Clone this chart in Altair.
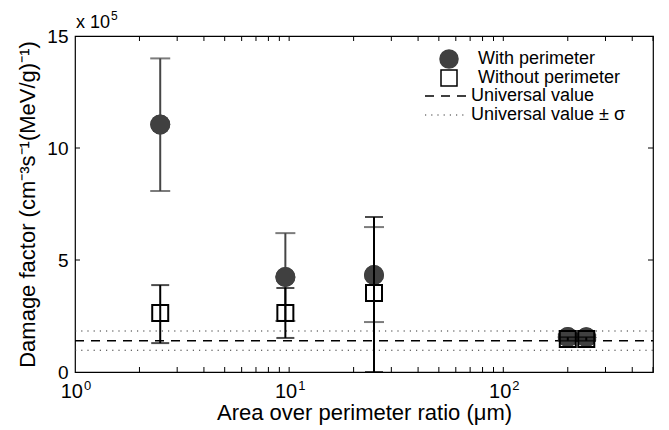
import altair as alt
import pandas as pd

# ---- data (values in units of 1e5) ----
x_groups = [2.5, 9.6, 24.9, 200, 244]
with_vals = [11.05, 4.24, 4.33, 1.56, 1.55]
with_lo = [8.08, 2.28, 2.23, 1.45, 1.45]
with_hi = [14.0, 6.2, 6.47, 1.67, 1.65]
without_vals = [2.63, 2.63, 3.53, 1.47, 1.47]
without_lo = [1.29, 1.52, 0.0, 1.40, 1.40]
without_hi = [3.88, 3.75, 6.92, 1.55, 1.55]
universal = 1.40
universal_sigma = 0.43

x_tick_values = [1, 10, 100]
x_tick_bases = ["10", "10", "10"]
x_tick_exps = ["0", "1", "2"]
x_minor = [2, 3, 4, 5, 6, 7, 8, 9, 10, 20, 30, 40, 50, 60, 70, 80, 90, 100, 200, 300, 400, 500]
y_tick_values = [0, 5, 10, 15]
y_inner_ticks = [5, 10]
legend_labels = ["With perimeter", "Without perimeter", "Universal value", "Universal value \u00b1 \u03c3"]
scale_base = "x 10"
scale_exp = "5"

W, H = 578, 336
FONT = "Liberation Sans"
GRAY = "#454545"

df_with = pd.DataFrame({"x": x_groups, "y": with_vals, "lo": with_lo, "hi": with_hi})
df_without = pd.DataFrame({"x": x_groups, "y": without_vals, "lo": without_lo, "hi": without_hi})
df_univ = pd.DataFrame({"y": [universal]})
df_sig = pd.DataFrame({"y": [universal - universal_sigma, universal + universal_sigma]})
df_xlab = pd.DataFrame({"x": x_tick_values, "b": x_tick_bases, "e": x_tick_exps})

xscale = alt.Scale(type="log", domain=[1, 500], nice=False)
yscale = alt.Scale(domain=[0, 15], nice=False, zero=False)

X = alt.X("x:Q", scale=xscale, axis=alt.Axis(
    values=x_tick_values, labels=False, tickSize=0, domain=False, grid=False,
    title="Area over perimeter ratio (\u03bcm)", titleFont=FONT, titleFontSize=22,
    titleFontWeight="normal", titlePadding=30, titleColor="black"))
Y = alt.Y("y:Q", scale=yscale, axis=alt.Axis(
    values=y_tick_values, tickSize=0, domain=False, grid=False,
    labelFontSize=19, labelPadding=7, labelFont=FONT, labelColor="black",
    title="Damage factor (cm\u207b\u00b3s\u207b\u00b9(MeV/g)\u207b\u00b9)", titleFont=FONT,
    titleFontSize=22, titleFontWeight="normal", titlePadding=7, titleColor="black",
    labelFlush=False))

base_w = alt.Chart(df_with)
base_wo = alt.Chart(df_without)

# universal lines
univ = alt.Chart(df_univ).mark_rule(color="black", strokeWidth=1.5, strokeDash=[9, 7]).encode(
    y=alt.Y("y:Q", scale=yscale), x=alt.value(0), x2=alt.value(W))
sig = alt.Chart(df_sig).mark_rule(color="#333333", strokeWidth=1.2, strokeDash=[1.2, 5]).encode(
    y=alt.Y("y:Q", scale=yscale), x=alt.value(0), x2=alt.value(W))

# with perimeter error bars + points
w_bar = base_w.mark_rule(color=GRAY, strokeWidth=2).encode(
    x=alt.X("x:Q", scale=xscale), y=alt.Y("lo:Q", scale=yscale), y2="hi:Q")
w_cap_lo = base_w.mark_tick(color=GRAY, orient="horizontal", size=20, thickness=2).encode(
    x=alt.X("x:Q", scale=xscale), y=alt.Y("lo:Q", scale=yscale))
w_cap_hi = base_w.mark_tick(color=GRAY, orient="horizontal", size=20, thickness=2).encode(
    x=alt.X("x:Q", scale=xscale), y=alt.Y("hi:Q", scale=yscale))
w_axes = base_w.mark_point(shape="circle", filled=True, color="#404040", size=400, opacity=1).encode(
    x=X, y=Y)
w_pts = base_w.mark_point(shape="circle", filled=True, color="#404040", size=400, opacity=1).encode(
    x=alt.X("x:Q", scale=xscale), y=alt.Y("y:Q", scale=yscale))

# without perimeter
wo_bar = base_wo.mark_rule(color="black", strokeWidth=2).encode(
    x=alt.X("x:Q", scale=xscale), y=alt.Y("lo:Q", scale=yscale), y2="hi:Q")
wo_cap_lo = base_wo.mark_tick(color="black", orient="horizontal", size=18, thickness=2).encode(
    x=alt.X("x:Q", scale=xscale), y=alt.Y("lo:Q", scale=yscale))
wo_cap_hi = base_wo.mark_tick(color="black", orient="horizontal", size=18, thickness=2).encode(
    x=alt.X("x:Q", scale=xscale), y=alt.Y("hi:Q", scale=yscale))
wo_pts = base_wo.mark_point(shape="square", filled=False, color="black", size=256,
                            strokeWidth=2, opacity=1).encode(
    x=alt.X("x:Q", scale=xscale), y=alt.Y("y:Q", scale=yscale))

# inner ticks (MATLAB style)
df_xt = pd.DataFrame({"x": x_minor})
df_yt = pd.DataFrame({"y": y_inner_ticks})
xt_bot = alt.Chart(df_xt).mark_rule(color="black", strokeWidth=1).encode(
    x=alt.X("x:Q", scale=xscale), y=alt.value(H), y2=alt.value(H - 5))
xt_top = alt.Chart(df_xt).mark_rule(color="black", strokeWidth=1).encode(
    x=alt.X("x:Q", scale=xscale), y=alt.value(0), y2=alt.value(5))
yt_l = alt.Chart(df_yt).mark_rule(color="black", strokeWidth=1).encode(
    y=alt.Y("y:Q", scale=yscale), x=alt.value(0), x2=alt.value(5))
yt_r = alt.Chart(df_yt).mark_rule(color="black", strokeWidth=1).encode(
    y=alt.Y("y:Q", scale=yscale), x=alt.value(W - 5), x2=alt.value(W))

# x tick labels as base + superscript
xl_base = alt.Chart(df_xlab).mark_text(font=FONT, fontSize=20, align="right",
                                       baseline="alphabetic", color="black", dx=8).encode(
    x=alt.X("x:Q", scale=xscale), y=alt.value(H + 26), text="b:N")
xl_exp = alt.Chart(df_xlab).mark_text(font=FONT, fontSize=13, align="left",
                                      baseline="alphabetic", color="black", dx=9).encode(
    x=alt.X("x:Q", scale=xscale), y=alt.value(H + 18), text="e:N")

# exponent label
expo_b = alt.Chart(pd.DataFrame({"t": [scale_base]})).mark_text(
    font=FONT, fontSize=18, align="left", baseline="alphabetic", color="black").encode(
    text="t:N", x=alt.value(1), y=alt.value(-8))
expo_e = alt.Chart(pd.DataFrame({"t": [scale_exp]})).mark_text(
    font=FONT, fontSize=12, align="left", baseline="alphabetic", color="black").encode(
    text="t:N", x=alt.value(36), y=alt.value(-16))

# manual legend
leg = []
ly = [23, 42, 60, 79]
lx = [403, 403, 396, 396]
for i, lab in enumerate(legend_labels):
    d = pd.DataFrame({"t": [lab]})
    leg.append(alt.Chart(d).mark_text(font=FONT, fontSize=18, align="left", baseline="middle",
                                      color="black").encode(
        text="t:N", x=alt.value(lx[i]), y=alt.value(ly[i])))
leg_c = alt.Chart(pd.DataFrame({"t": [legend_labels[0]]})).mark_point(
    shape="circle", filled=True, color="#404040", size=380, opacity=1).encode(
    x=alt.value(374), y=alt.value(ly[0]))
leg_s = alt.Chart(pd.DataFrame({"t": [legend_labels[1]]})).mark_point(
    shape="square", filled=False, color="black", size=256, strokeWidth=1.5, opacity=1).encode(
    x=alt.value(374), y=alt.value(ly[1]))
leg_d = alt.Chart(pd.DataFrame({"t": [legend_labels[2]]})).mark_rule(
    color="black", strokeWidth=1.5, strokeDash=[9, 7]).encode(
    x=alt.value(350), x2=alt.value(392), y=alt.value(ly[2]))
leg_o = alt.Chart(pd.DataFrame({"t": [legend_labels[3]]})).mark_rule(
    color="#333333", strokeWidth=1.2, strokeDash=[1.2, 5]).encode(
    x=alt.value(350), x2=alt.value(392), y=alt.value(ly[3]))

chart = alt.layer(
    w_axes, sig, univ, w_bar, w_cap_lo, w_cap_hi, w_pts,
    wo_bar, wo_cap_lo, wo_cap_hi, wo_pts,
    xt_bot, xt_top, yt_l, yt_r, xl_base, xl_exp, expo_b, expo_e,
    leg_c, leg_s, leg_d, leg_o, *leg
).properties(
    width=W, height=H,
    autosize=alt.AutoSizeParams(type="none"),
    padding={"left": 75, "top": 36, "right": 16, "bottom": 58},
    background="white",
).configure_view(stroke="black", strokeWidth=1.2)

chart.save("out.html", embed_options={"renderer": "svg", "actions": False})
